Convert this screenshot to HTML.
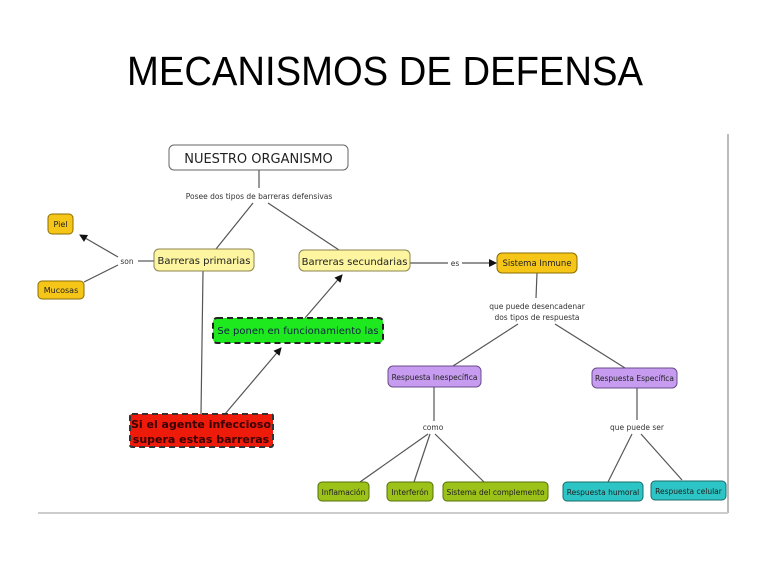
<!DOCTYPE html>
<html><head><meta charset="utf-8"><style>
html,body{margin:0;padding:0;background:#fff;width:768px;height:576px;overflow:hidden}
svg text{font-family:"DejaVu Sans","Liberation Sans",sans-serif}
</style></head><body>
<svg width="768" height="576" viewBox="0 0 768 576" xmlns="http://www.w3.org/2000/svg">
<defs><marker id="a" markerWidth="8" markerHeight="8" refX="7" refY="4" orient="auto" markerUnits="userSpaceOnUse"><path d="M0,0 L8,4 L0,8 z" fill="#111"/></marker></defs>
<text x="127" y="85" font-size="41" textLength="516" lengthAdjust="spacingAndGlyphs" style="font-family:'Liberation Sans',sans-serif" fill="#000">MECANISMOS DE DEFENSA</text>
<line x1="728" y1="134" x2="728" y2="513" stroke="#bbb" stroke-width="2"/>
<line x1="38" y1="513" x2="728" y2="513" stroke="#ccc" stroke-width="2"/>
<g stroke="#555" stroke-width="1.2" fill="none">
<line x1="259" y1="170" x2="259" y2="188"/>
<line x1="253" y1="203" x2="216" y2="249"/>
<line x1="268" y1="203" x2="339" y2="250"/>
<line x1="154" y1="261" x2="138" y2="261"/>
<line x1="118" y1="257" x2="80" y2="235" marker-end="url(#a)"/>
<line x1="118" y1="265" x2="84" y2="282"/>
<line x1="410" y1="263" x2="448" y2="263"/>
<line x1="462" y1="263" x2="496" y2="263" marker-end="url(#a)"/>
<line x1="203" y1="271" x2="201" y2="414"/>
<line x1="225" y1="414" x2="281" y2="348" marker-end="url(#a)"/>
<line x1="305" y1="318" x2="342" y2="275" marker-end="url(#a)"/>
<line x1="537" y1="273" x2="536" y2="298"/>
<line x1="518" y1="324" x2="453" y2="366"/>
<line x1="555" y1="324" x2="625" y2="368"/>
<line x1="434" y1="387" x2="434" y2="421"/>
<line x1="428" y1="434" x2="360" y2="482"/>
<line x1="430" y1="434" x2="414" y2="482"/>
<line x1="435" y1="434" x2="484" y2="482"/>
<line x1="637" y1="388" x2="637" y2="420"/>
<line x1="632" y1="434" x2="608" y2="482"/>
<line x1="641" y1="434" x2="682" y2="480"/>
</g>
<g font-size="7.5" fill="#333" text-anchor="middle">
<text x="259" y="199">Posee dos tipos de barreras defensivas</text>
<text x="127" y="264">son</text>
<text x="455" y="266">es</text>
<text x="537" y="309">que puede desencadenar</text>
<text x="537" y="320">dos tipos de respuesta</text>
<text x="433" y="430">como</text>
<text x="637" y="430">que puede ser</text>
</g>
<rect x="169" y="145" width="179" height="25" rx="5" fill="#fff" stroke="#666"/>
<text x="258.5" y="163" font-size="13" text-anchor="middle" fill="#222">NUESTRO ORGANISMO</text>
<g font-size="9" text-anchor="middle" fill="#222">
<rect x="48" y="214" width="25" height="20" rx="4" fill="#f5c518" stroke="#8a6d00"/><text x="60.5" y="227" font-size="8">Piel</text>
<rect x="38" y="281" width="46" height="18" rx="4" fill="#f5c518" stroke="#8a6d00"/><text x="61" y="293" font-size="8">Mucosas</text>
<rect x="154" y="249" width="100" height="22" rx="5" fill="#fdf5a0" stroke="#8c8550"/><text x="204" y="264" font-size="10">Barreras primarias</text>
<rect x="299" y="250" width="111" height="21" rx="5" fill="#fdf5a0" stroke="#8c8550"/><text x="354.5" y="265" font-size="10">Barreras secundarias</text>
<rect x="497" y="253" width="80" height="20" rx="5" fill="#f5c518" stroke="#8a6d00"/><text x="537" y="266" font-size="8.5">Sistema Inmune</text>
<rect x="213" y="318" width="170" height="25" rx="4" fill="#1ee81e" stroke="#222" stroke-width="2" stroke-dasharray="6,4"/><text x="298" y="334" font-size="10" fill="#124">Se ponen en funcionamiento las</text>
<rect x="130" y="414" width="143" height="33" rx="2" fill="#ee1a0a" stroke="#333" stroke-width="2" stroke-dasharray="6,4"/>
<text x="201" y="428" font-size="11" font-weight="bold" fill="#3a0000">Si el agente infeccioso</text>
<text x="201" y="443" font-size="11" font-weight="bold" fill="#3a0000">supera estas barreras</text>
<rect x="388" y="366" width="93" height="21" rx="5" fill="#c79cf0" stroke="#6b4c8c"/><text x="434.5" y="380" font-size="7.5">Respuesta Inespecífica</text>
<rect x="592" y="368" width="85" height="20" rx="5" fill="#c79cf0" stroke="#6b4c8c"/><text x="634.5" y="381" font-size="7.5">Respuesta Específica</text>
<rect x="318" y="482" width="51" height="19" rx="4" fill="#9cc21a" stroke="#55700a"/><text x="343.5" y="495" font-size="7.5">Inflamación</text>
<rect x="387" y="482" width="46" height="19" rx="4" fill="#9cc21a" stroke="#55700a"/><text x="410" y="495" font-size="7.5">Interferón</text>
<rect x="443" y="482" width="105" height="19" rx="4" fill="#9cc21a" stroke="#55700a"/><text x="495.5" y="495" font-size="7.5">Sistema del complemento</text>
<rect x="563" y="482" width="80" height="19" rx="4" fill="#2cc4c4" stroke="#1a6b6b"/><text x="603" y="495" font-size="7.5">Respuesta humoral</text>
<rect x="651" y="481" width="75" height="19" rx="4" fill="#2cc4c4" stroke="#1a6b6b"/><text x="688.5" y="494" font-size="7.5">Respuesta celular</text>
</g>
</svg>
</body></html>
